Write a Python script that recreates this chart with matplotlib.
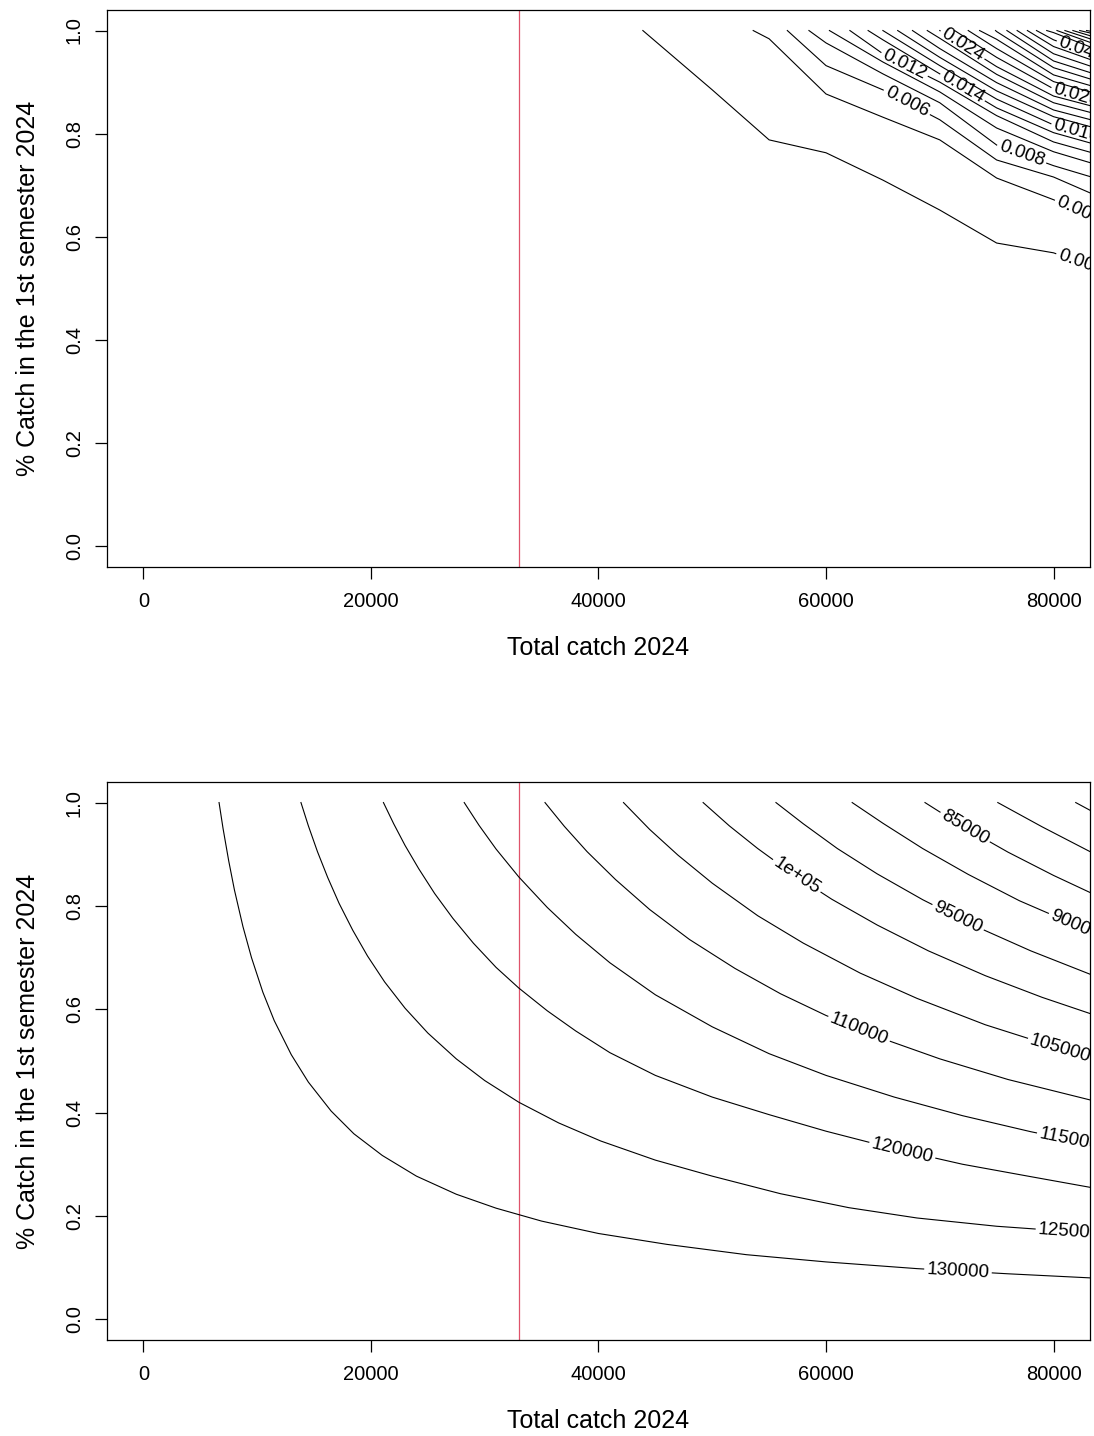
import numpy as np
import matplotlib
matplotlib.use("Agg")
import matplotlib.pyplot as plt
from matplotlib import font_manager

plt.rcParams['font.family'] = ['Liberation Sans', 'DejaVu Sans']

# Axes
catch_ticks = [0, 20000, 40000, 60000, 80000]
share_ticks = [0.0, 0.2, 0.4, 0.6, 0.8, 1.0]
share_tick_labels = ['0.0', '0.2', '0.4', '0.6', '0.8', '1.0']
current_catch = 33000

# Top panel: risk contours
nan = np.nan
risk_levels = [0.002, 0.004, 0.006, 0.008, 0.010, 0.012, 0.014, 0.016, 0.018,
               0.020, 0.022, 0.024, 0.026, 0.028, 0.030, 0.032, 0.034, 0.036,
               0.038, 0.040, 0.042, 0.044, 0.046, 0.048, 0.050, 0.052]
# catch where each contour leaves the top edge (share = 1)
risk_start = [43900, 53600, 56600, 58500, 60300, 62100, 63700, 65000, 66300,
              67600, 68900, 70000, 71300, 72500, 73500, 74900, 75900, 76800,
              77700, 78500, 79400, 80300, 81000, 81700, 82300, 82900]
risk_nodes = [50000, 55000, 60000, 65000, 70000, 75000, 80000, 85000]
risk_share = [
    [0.885, 0.788, 0.763, 0.710, 0.652, 0.588, 0.569, 0.530],
    [nan, 0.984, 0.877, 0.832, 0.788, 0.714, 0.672, 0.622],
    [nan, nan, 0.932, 0.885, 0.827, 0.749, 0.716, 0.668],
    [nan, nan, 0.976, 0.916, 0.860, 0.778, 0.738, 0.705],
    [nan, nan, nan, 0.939, 0.881, 0.811, 0.765, 0.732],
    [nan, nan, nan, 0.955, 0.900, 0.835, 0.784, 0.753],
    [nan, nan, nan, 0.982, 0.916, 0.850, 0.802, 0.771],
    [nan, nan, nan, nan, 0.932, 0.867, 0.817, 0.786],
    [nan, nan, nan, nan, 0.948, 0.883, 0.833, 0.803],
    [nan, nan, nan, nan, 0.965, 0.899, 0.846, 0.817],
    [nan, nan, nan, nan, 0.985, 0.915, 0.860, 0.831],
    [nan, nan, nan, nan, nan, 0.930, 0.873, 0.844],
    [nan, nan, nan, nan, nan, 0.948, 0.887, 0.856],
    [nan, nan, nan, nan, nan, 0.965, 0.901, 0.870],
    [nan, nan, nan, nan, nan, 0.983, 0.914, 0.882],
    [nan, nan, nan, nan, nan, 0.998, 0.928, 0.894],
    [nan, nan, nan, nan, nan, nan, 0.941, 0.906],
    [nan, nan, nan, nan, nan, nan, 0.955, 0.918],
    [nan, nan, nan, nan, nan, nan, 0.969, 0.930],
    [nan, nan, nan, nan, nan, nan, 0.982, 0.942],
    [nan, nan, nan, nan, nan, nan, 0.996, 0.953],
    [nan, nan, nan, nan, nan, nan, nan, 0.963],
    [nan, nan, nan, nan, nan, nan, nan, 0.971],
    [nan, nan, nan, nan, nan, nan, nan, 0.978],
    [nan, nan, nan, nan, nan, nan, nan, 0.986],
    [nan, nan, nan, nan, nan, nan, nan, 0.992],
]
# where the labels sit along the line (catch value)
risk_label_at = {0.002: 82400, 0.004: 82200, 0.006: 67100, 0.008: 77200,
                 0.012: 66900, 0.014: 72000, 0.016: 82000, 0.024: 72000,
                 0.026: 82000, 0.040: 82000}

# Bottom panel: biomass contours
bio_levels = [75000, 80000, 85000, 90000, 95000, 100000,
              105000, 110000, 115000, 120000, 125000, 130000]
bio_labels = ['75000', '80000', '85000', '90000', '95000', '1e+05',
              '105000', '110000', '115000', '120000', '125000', '130000']
bio_catch = [
    [81950, 83300],
    [75100, 79000, 83300],
    [68700, 72000, 76000, 80000, 83300],
    [62300, 65000, 68500, 72500, 77000, 83300],
    [55600, 58000, 61000, 64500, 68500, 73000, 78000, 83300],
    [49200, 51500, 54000, 57000, 60500, 64500, 69000, 74000, 79000, 83300],
    [42200, 44500, 47000, 50000, 54000, 58000, 63000, 68000, 74000, 80000,
     83300],
    [35300, 37000, 39000, 41500, 44500, 48000, 52000, 56000, 60000, 65000,
     70000, 76000, 83300],
    [28200, 29500, 31000, 33000, 35500, 38000, 41000, 45000, 50000, 55000,
     60000, 66000, 72000, 78000, 83300],
    [21100, 22000, 23000, 24200, 25600, 27200, 29000, 31000, 33000, 35500,
     38000, 41000, 45000, 50000, 55000, 60000, 66000, 72000, 78000, 83300],
    [13850, 14500, 15300, 16200, 17200, 18400, 19700, 21200, 23000, 25000,
     27500, 30000, 33000, 36500, 40200, 45000, 50000, 56000, 62000, 68000,
     75000, 83300],
    [6650, 7000, 7500, 8000, 8750, 9500, 10500, 11500, 13000, 14500, 16500,
     18500, 21000, 24000, 27500, 31000, 35000, 40000, 46000, 53000, 60000,
     68000, 76000, 83300],
]
bio_share = [
    [1.0, 0.984],
    [1.0, 0.953, 0.904],
    [1.0, 0.954, 0.904, 0.859, 0.825],
    [1.0, 0.960, 0.911, 0.861, 0.810, 0.750],
    [1.0, 0.959, 0.911, 0.862, 0.812, 0.762, 0.713, 0.667],
    [1.0, 0.955, 0.911, 0.863, 0.813, 0.763, 0.713, 0.665, 0.623, 0.591],
    [1.0, 0.948, 0.898, 0.844, 0.781, 0.728, 0.670, 0.621, 0.570, 0.528,
     0.507],
    [1.0, 0.954, 0.905, 0.851, 0.793, 0.735, 0.679, 0.630, 0.588, 0.543,
     0.504, 0.464, 0.424],
    [1.0, 0.956, 0.910, 0.856, 0.797, 0.745, 0.690, 0.628, 0.566, 0.514,
     0.472, 0.430, 0.394, 0.363, 0.339],
    [1.0, 0.959, 0.917, 0.872, 0.824, 0.776, 0.728, 0.681, 0.641, 0.597,
     0.558, 0.516, 0.472, 0.430, 0.396, 0.364, 0.330, 0.300, 0.276, 0.255],
    [1.0, 0.955, 0.905, 0.855, 0.805, 0.753, 0.703, 0.653, 0.602, 0.554,
     0.504, 0.462, 0.420, 0.380, 0.345, 0.308, 0.277, 0.243, 0.216, 0.196,
     0.180, 0.167],
    [1.0, 0.950, 0.887, 0.831, 0.760, 0.700, 0.633, 0.578, 0.512, 0.459,
     0.403, 0.359, 0.317, 0.277, 0.242, 0.215, 0.190, 0.166, 0.145, 0.125,
     0.111, 0.098, 0.088, 0.080],
]
bio_label_at = [None, None, 72200, 81900, 71600, 57400,
                80600, 62900, 81400, 66700, 81400, 71600]

LABEL_SIZE = 13.5

# R draws the tick labels a bit taller and narrower than the titles
installed = {f.name for f in font_manager.fontManager.ttflist}
if 'Liberation Sans Narrow' in installed:
    TICK_FONT = dict(fontfamily=['Liberation Sans Narrow', 'DejaVu Sans'],
                     fontsize=17)
    X_PAD, Y_PAD = 7.5, 7
else:
    TICK_FONT = dict(fontfamily=['Liberation Sans', 'DejaVu Sans'],
                     fontsize=14.5)
    X_PAD, Y_PAD = 9.5, 8


def contour_line(ax, xs, ys, text=None, at=None):
    xs = np.asarray(xs, float)
    ys = np.asarray(ys, float)
    if text is None:
        ax.plot(xs, ys, color='black', lw=0.8)
        return
    # work in display space so the label follows the line and cuts a gap
    pts = ax.transData.transform(np.column_stack([xs, ys]))
    s = np.concatenate([[0], np.cumsum(np.hypot(*np.diff(pts, axis=0).T))])
    sc = np.interp(ax.transData.transform((at, 0.5))[0], pts[:, 0], s)
    t = ax.text(0, 0, text, fontsize=LABEL_SIZE)
    w = t.get_window_extent(renderer=fig.canvas.get_renderer()).width
    t.remove()
    s0, s1 = sc - w / 2 - 3, sc + w / 2 + 3

    def along(v):
        return np.array([np.interp(v, s, pts[:, 0]), np.interp(v, s, pts[:, 1])])

    p0, p1, pc = along(s0), along(s1), along(sc)
    inv = ax.transData.inverted()
    pieces = []
    if s0 > 0:
        pieces.append(np.vstack([pts[s < s0], p0]))
    if s1 < s[-1]:
        pieces.append(np.vstack([p1, pts[s > s1]]))
    for piece in pieces:
        if len(piece) > 1:
            d = inv.transform(piece)
            ax.plot(d[:, 0], d[:, 1], color='black', lw=0.8)
    angle = np.degrees(np.arctan2(p1[1] - p0[1], p1[0] - p0[0]))
    cx, cy = inv.transform(pc)
    ax.text(cx, cy, text, fontsize=LABEL_SIZE, rotation=angle,
            rotation_mode='anchor', ha='center', va='center', clip_on=True)


def setup_axes(ax):
    ax.set_xlim(-3200, 83200)
    ax.set_ylim(-0.04, 1.04)
    ax.set_xticks(catch_ticks)
    ax.set_xticklabels([str(v) for v in catch_ticks], **TICK_FONT)
    ax.set_yticks(share_ticks)
    ax.set_yticklabels(share_tick_labels, rotation=90, va='center', **TICK_FONT)
    ax.tick_params(direction='out', length=8.6, width=0.9)
    ax.tick_params(axis='x', pad=X_PAD)
    ax.tick_params(axis='y', pad=Y_PAD)
    for sp in ax.spines.values():
        sp.set_linewidth(0.9)
    ax.axvline(current_catch, color='#DF536B', lw=0.9)


fig = plt.figure(figsize=(10.94, 14.36), dpi=100)
ax1 = fig.add_axes([0.0978, 0.6052, 0.8985, 0.3879])
ax2 = fig.add_axes([0.0978, 0.0669, 0.8985, 0.3886])
setup_axes(ax1)
setup_axes(ax2)

# top panel
for lvl, start, row in zip(risk_levels, risk_start, risk_share):
    xs = [start] + [n for n, v in zip(risk_nodes, row) if not np.isnan(v)]
    ys = [1.0] + [v for v in row if not np.isnan(v)]
    at = risk_label_at.get(lvl)
    contour_line(ax1, xs, ys, f'{lvl:g}' if at else None, at)

# bottom panel
for lab, xs, ys, at in zip(bio_labels, bio_catch, bio_share, bio_label_at):
    contour_line(ax2, xs, ys, lab if at else None, at)

# axis titles
for ax in (ax1, ax2):
    pos = ax.get_position()
    fig.text(pos.x0 + pos.width / 2, pos.y0 - 81 / 1436, 'Total catch 2024',
             ha='center', va='center', fontsize=18)
    fig.text(28 / 1094, pos.y0 + pos.height / 2,
             '% Catch in the 1st semester 2024', rotation=90,
             ha='center', va='center', fontsize=18)

fig.savefig('out.png', dpi=100)
